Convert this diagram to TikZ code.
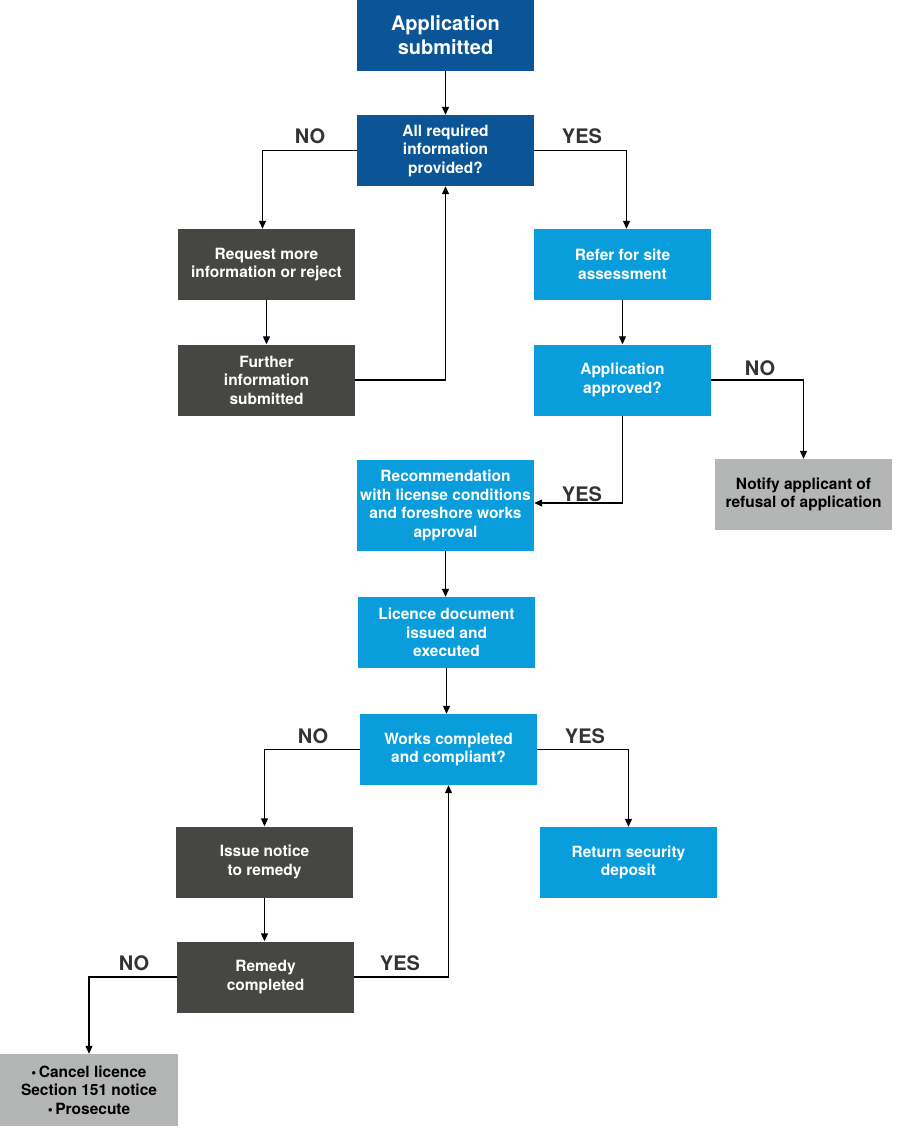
\documentclass[tikz,border=0pt]{standalone}
\usepackage{fontspec}
\setmainfont{TeX Gyre Heros}
\usetikzlibrary{arrows.meta}
\definecolor{dblue}{HTML}{0B5596}
\definecolor{lblue}{HTML}{0A9DDC}
\definecolor{dgrey}{HTML}{464642}
\definecolor{lgrey}{HTML}{B4B5B5}
\definecolor{lbl}{HTML}{333333}
\newcommand{\mybul}{{\fontsize{14}{14}\selectfont •}\,}
\begin{document}
\begin{tikzpicture}[x=1pt,y=-1pt,
  box/.style={minimum width=177pt,minimum height=71pt,inner sep=0pt,align=center,
    text=white,font=\bfseries\fontsize{15.5}{18.5}\selectfont},
  darkblue/.style={box,fill=dblue},
  lightblue/.style={box,fill=lblue},
  darkgrey/.style={box,fill=dgrey},
  lightgrey/.style={box,fill=lgrey,text=black},
  arr/.style={draw=black,line width=1.2pt,-{Triangle[length=8pt,width=7pt]}},
  yn/.style={text=lbl,font=\bfseries\fontsize{20}{22}\selectfont,inner sep=0pt}]
\useasboundingbox (0,0) rectangle (900,1131);
\node[darkblue,font=\bfseries\fontsize{20}{24}\selectfont] (n1) at (445.5,35.5) {Application\\submitted};
\node[darkblue] (n2) at (445.5,150.5) {All required\\information\\provided?};
\node[darkgrey] (n3) at (266.5,264.5) {Request more\\information or reject};
\node[darkgrey] (n4) at (266.5,380) {Further\\information\\submitted};
\node[lightblue] (n5) at (622.5,264.5) {Refer for site\\assessment};
\node[lightblue] (n6) at (622.5,380) {Application\\approved?};
\node[lightgrey] (n7) at (803.5,494.5) {Notify applicant of\\refusal of application};
\node[lightblue,minimum height=91pt] (n8) at (445.5,505.5) {Recommendation\\with license conditions\\and foreshore works\\approval};
\node[lightblue] (n9) at (446.5,632.5) {Licence document\\issued and\\executed};
\node[lightblue] (n10) at (448.5,749.5) {Works completed\\and compliant?};
\node[darkgrey] (n11) at (264.5,862) {Issue notice\\to remedy};
\node[lightblue] (n12) at (628.5,862.5) {Return security\\deposit};
\node[darkgrey] (n13) at (265.5,977) {Remedy\\completed};
\node[lightgrey,minimum width=178pt,minimum height=72pt] (n14) at (89,1090) {\mybul Cancel licence\\Section 151 notice\\\mybul Prosecute};
% labels
\node[yn] (l1) at (310,136) {NO};
\node[yn] (l2) at (582,136) {YES};
\node[yn] (l3) at (760,368) {NO};
\node[yn] (l4) at (582,494) {YES};
\node[yn] (l5) at (313,736) {NO};
\node[yn] (l6) at (585,736) {YES};
\node[yn] (l7) at (400,963) {YES};
\node[yn] (l8) at (134,963) {NO};
% connectors
\draw[arr] (n1.south) -- (n2.north);
\draw[arr] (n2.west) -| ([xshift=-4pt]n3.north);
\draw[arr] (n2.east) -| ([xshift=4pt]n5.north);
\draw[arr] (n3.south) -- (n4.north);
\draw[arr] (n4.east) -| (n2.south);
\draw[arr] (n5.south) -- (n6.north);
\draw[arr] (n6.east) -| (n7.north);
\draw[arr] (n6.south) |- ([yshift=2.5pt]n8.east);
\draw[arr] (n8.south) -- (n8.south |- n9.north);
\draw[arr] (n9.south) -- (n9.south |- n10.north);
\draw[arr] (n10.west) -| (n11.north);
\draw[arr] (n10.east) -| (n12.north);
\draw[arr] (n11.south) -- (n11.south |- n13.north);
\draw[arr] (n13.east) -| (n10.south);
\draw[arr] (n13.west) -| (n14.north);
\end{tikzpicture}
\end{document}
